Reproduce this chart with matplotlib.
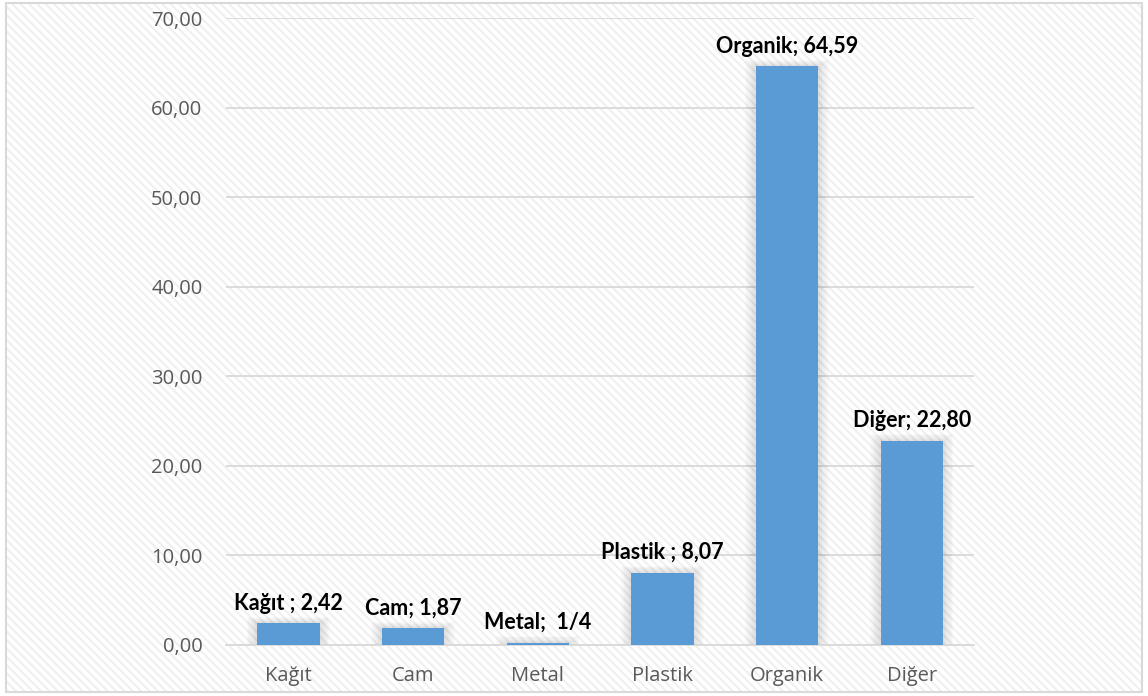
import matplotlib.pyplot as plt
from matplotlib.patches import Rectangle

# chart data
categories = ['Kağıt', 'Cam', 'Metal', 'Plastik', 'Organik', 'Diğer']
values = [2.42, 1.87, 0.25, 8.07, 64.59, 22.80]
labels = ['Kağıt ; 2,42', 'Cam; 1,87', 'Metal;  1/4', 'Plastik ; 8,07', 'Organik; 64,59', 'Diğer; 22,80']
yticks = [0, 10, 20, 30, 40, 50, 60, 70]

bar_color = '#5b9bd5'
plt.rcParams['hatch.linewidth'] = 1.4

fig = plt.figure(figsize=(11.48, 6.96), dpi=100)

# hatched background + thin border like the office chart area
bg = Rectangle((0.005, 0.006), 0.99, 0.99, transform=fig.transFigure,
               facecolor='white', edgecolor='#efefef', hatch='\\\\\\\\', linewidth=0, zorder=-10)
fig.patches.append(bg)
border = Rectangle((0.005, 0.006), 0.99, 0.99, transform=fig.transFigure,
                   facecolor='none', edgecolor='#d9d9d9', linewidth=1.5, zorder=-9)
fig.patches.append(border)

ax = fig.add_axes([0.1969, 0.0733, 0.6516, 0.9008])
ax.set_facecolor('none')

x = list(range(len(categories)))

# soft shadow around the bars
for k in range(1, 7):
    ax.bar(x, [v + k * 0.12 for v in values], width=0.5 + k * 0.028,
           color='#000000', alpha=0.018, linewidth=0, zorder=1)

ax.bar(x, values, width=0.5, color=bar_color, linewidth=0, zorder=3)

for xi, v, lab in zip(x, values, labels):
    ax.annotate(lab, (xi, v), xytext=(0, 7), textcoords='offset points',
                ha='center', va='bottom', fontsize=15.5, fontweight='bold',
                family=['Lato', 'DejaVu Sans'], color='black', zorder=5)

ax.set_ylim(0, 70)
ax.set_xlim(-0.5, len(categories) - 0.5)
ax.set_yticks(yticks)
ax.set_yticklabels(['%d,00' % t for t in yticks])
ax.set_xticks(x)
ax.set_xticklabels(categories)
ax.yaxis.grid(True, color='#d9d9d9', linewidth=1.3, zorder=0)
ax.set_axisbelow(True)
for s in ['top', 'right', 'left']:
    ax.spines[s].set_visible(False)
ax.spines['bottom'].set_color('#d9d9d9')
ax.spines['bottom'].set_linewidth(1.3)
ax.tick_params(axis='y', length=0, pad=17, labelsize=14.5, labelcolor='#595959')
ax.tick_params(axis='x', length=0, pad=15, labelsize=14.5, labelcolor='#595959')
for t in ax.get_xticklabels() + ax.get_yticklabels():
    t.set_family(['Open Sans', 'DejaVu Sans'])

fig.savefig('out.png', dpi=100)
